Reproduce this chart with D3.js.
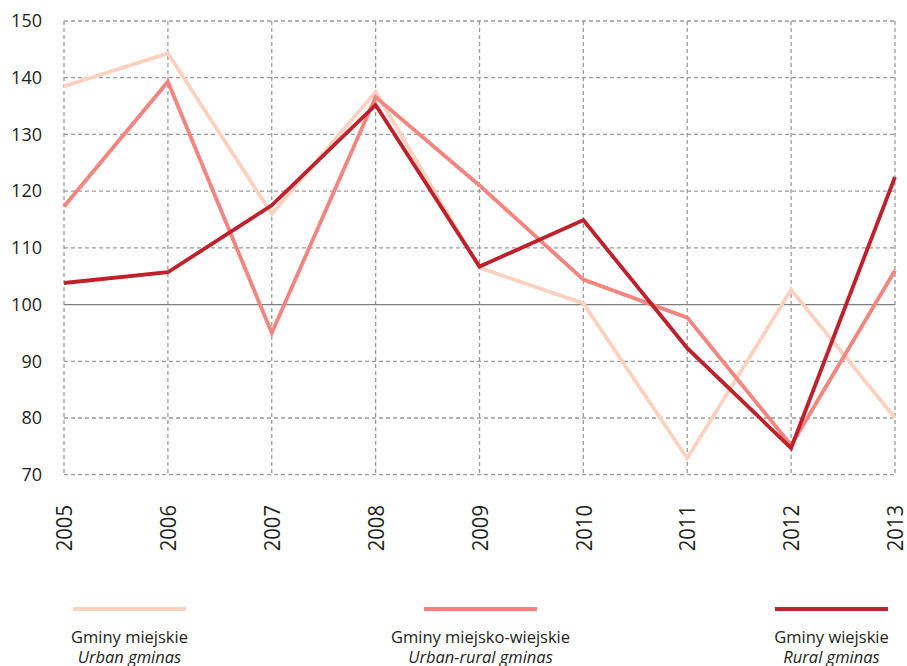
<!DOCTYPE html>
<html lang="pl">
<head>
<meta charset="UTF-8">
<script src="https://d3js.org/d3.v7.min.js"></script>
<style>
body{
	margin: 0;
	background-color: white;
}
.axisY text, .axisX text{
	font-family: "Open Sans", sans-serif;
	font-size: 18px;
	fill: #231f20;
}
.axisX text{
	font-size: 22px;
}
.legend text{
	font-family: "Open Sans", sans-serif;
	font-size: 16.5px;
	fill: #231f20;
}
</style>
</head>
<body>
<svg width="907" height="666"></svg>
<script>
// data
const years = [2005, 2006, 2007, 2008, 2009, 2010, 2011, 2012, 2013]
const urban = [138.5, 144.3, 116.0, 137.5, 106.5, 100.2, 72.9, 102.6, 80.0]
const urbanRural = [117.3, 139.3, 95.0, 136.6, 121.0, 104.4, 97.7, 75.2, 106.0]
const rural = [103.8, 105.7, 117.5, 135.2, 106.7, 114.9, 92.3, 74.7, 122.5]
const yTicks = [70, 80, 90, 100, 110, 120, 130, 140, 150]

const seriesNames = ["Gminy miejskie", "Gminy miejsko-wiejskie", "Gminy wiejskie"]
const seriesNamesEn = ["Urban gminas", "Urban-rural gminas", "Rural gminas"]
const colors = ["#fdd1c0", "#f4847e", "#c0202a"]

const svg = d3.select("svg")

const x = d3.scaleLinear()
	.domain([2005, 2013])
	.range([64, 895])

const y = d3.scaleLinear()
	.domain([70, 150])
	.range([474.7, 21])

// grid
const grid = svg.append("g").attr("class", "grid")

grid.selectAll(".hLine")
	.data(yTicks.filter(function(d){return d != 100}))
	.join("line")
	.attr("x1", x(2005)).attr("x2", x(2013))
	.attr("y1", function(d){return y(d)}).attr("y2", function(d){return y(d)})
	.style("stroke", "#9a9a9a")
	.style("stroke-width", 1.3)
	.style("stroke-dasharray", "4,3")

grid.selectAll(".vLine")
	.data(years)
	.join("line")
	.attr("x1", function(d){return x(d)}).attr("x2", function(d){return x(d)})
	.attr("y1", y(150)).attr("y2", y(70))
	.style("stroke", "#9a9a9a")
	.style("stroke-width", 1.3)
	.style("stroke-dasharray", "4,3")

grid.append("line")
	.attr("x1", x(2005)).attr("x2", x(2013))
	.attr("y1", y(100)).attr("y2", y(100))
	.style("stroke", "#7f7f7f")
	.style("stroke-width", 1.3)

// axes
const axisY = svg.append("g").attr("class", "axisY")
	.attr("transform", "translate(42,0)")
	.call(d3.axisLeft(y).tickValues(yTicks).tickSize(0).tickPadding(0).tickFormat(d3.format("d")))
axisY.select(".domain").remove()

const axisX = svg.append("g").attr("class", "axisX")
	.attr("transform", "translate(0,505)")
	.call(d3.axisBottom(x).tickValues(years).tickSize(0).tickFormat(d3.format("d")))
axisX.select(".domain").remove()
axisX.selectAll("text")
	.attr("transform", "rotate(-90) scale(0.92,1)")
	.attr("x", 0)
	.attr("y", 0)
	.attr("dy", "0.35em")
	.style("text-anchor", "end")

// lines
const line = d3.line()
	.x(function(d, i){return x(years[i])})
	.y(function(d){return y(d)})

const allSeries = [urban, urbanRural, rural]

svg.append("g").selectAll(".series")
	.data(allSeries)
	.join("path")
	.attr("d", function(d){return line(d)})
	.style("fill", "none")
	.style("stroke", function(d, i){return colors[i]})
	.style("stroke-width", 3.8)
	.style("stroke-linejoin", "miter")

// legend
const legendX = d3.scalePoint()
	.domain(seriesNames)
	.range([129.5, 831.5])

const legend = svg.append("g").attr("class", "legend")
	.selectAll("g")
	.data(seriesNames)
	.join("g")
	.attr("transform", function(d){return "translate(" + legendX(d) + ",0)"})

legend.append("line")
	.attr("x1", -56.5).attr("x2", 56.5)
	.attr("y1", 609).attr("y2", 609)
	.style("stroke", function(d, i){return colors[i]})
	.style("stroke-width", 4)

legend.append("text")
	.attr("y", 642.5)
	.style("text-anchor", "middle")
	.text(function(d){return d})

legend.append("text")
	.attr("y", 662.5)
	.style("text-anchor", "middle")
	.style("font-style", "italic")
	.text(function(d, i){return seriesNamesEn[i]})
</script>
</body>
</html>
